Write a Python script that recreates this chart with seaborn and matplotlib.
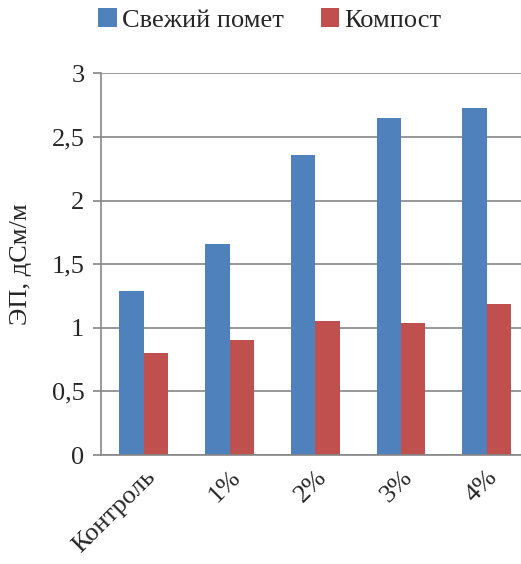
import pandas as pd
import matplotlib
matplotlib.use("Agg")
import matplotlib.pyplot as plt
import matplotlib.ticker as mticker
import seaborn as sns

# ----------------------------------------------------------
# Data
# ----------------------------------------------------------

categories = ["Контроль", "1%", "2%", "3%", "4%"]
series_names = ["Свежий помет", "Компост"]
fresh = [1.29, 1.66, 2.36, 2.65, 2.73]
compost = [0.80, 0.90, 1.05, 1.04, 1.19]
colors = ["#4F81BD", "#C0504D"]

df = pd.DataFrame({
    "cat": categories * 2,
    "series": [series_names[0]] * len(categories) + [series_names[1]] * len(categories),
    "value": fresh + compost,
})

# ----------------------------------------------------------
# Plot
# ----------------------------------------------------------

sns.set_style("white")
plt.rcParams["font.family"] = ["Liberation Serif", "DejaVu Serif"]

fig = plt.figure(figsize=(5.21, 5.64), dpi=100)
ax = fig.add_axes([101 / 521, 1 - 455 / 564, 428.5 / 521, (455 - 73.3) / 564])

sns.barplot(
    data=df, x="cat", y="value", hue="series",
    order=categories, hue_order=series_names,
    palette=colors, width=0.57, gap=0, linewidth=0,
    saturation=1, ax=ax, legend=True
)

ax.set_xlim(-0.5, len(categories) - 0.5)
ax.set_ylim(0, 3)
ax.yaxis.set_major_locator(mticker.MultipleLocator(0.5))
ax.yaxis.set_major_formatter(
    mticker.FuncFormatter(lambda v, p: ("%g" % v).replace(".", ","))
)
ax.grid(axis="y", color="#868686", linewidth=1.2)
ax.set_axisbelow(True)

for s in ["top", "right"]:
    ax.spines[s].set_visible(False)
for s in ["left", "bottom"]:
    ax.spines[s].set_color("#868686")
    ax.spines[s].set_linewidth(1.2)

# category boundary ticks on x
ax.set_xticks([i - 0.5 for i in range(len(categories) + 1)], minor=True)
ax.tick_params(axis="x", which="minor", length=6, width=1.2, color="#868686", direction="out")
ax.tick_params(axis="x", which="major", length=0, pad=8)
ax.tick_params(axis="y", length=6, width=1.2, color="#868686", direction="out",
               labelsize=19, pad=6, left=True)
ax.set_xticks(range(len(categories)))
ax.set_xticklabels(categories, rotation=45, ha="right", rotation_mode="anchor", fontsize=19)

ax.set_xlabel("")
ax.set_ylabel("ЭП, дСм/м", fontsize=19, labelpad=14)

handles, labels = ax.get_legend_handles_labels()
ax.get_legend().remove()
fig.legend(
    handles, labels, loc="center", bbox_to_anchor=(270 / 521, 1 - 20 / 564),
    ncol=2, frameon=False, fontsize=19, handlelength=0.7, handleheight=0.7,
    handletextpad=0.2, columnspacing=1.4
)

plt.savefig("out.png", dpi=100)
plt.close()
